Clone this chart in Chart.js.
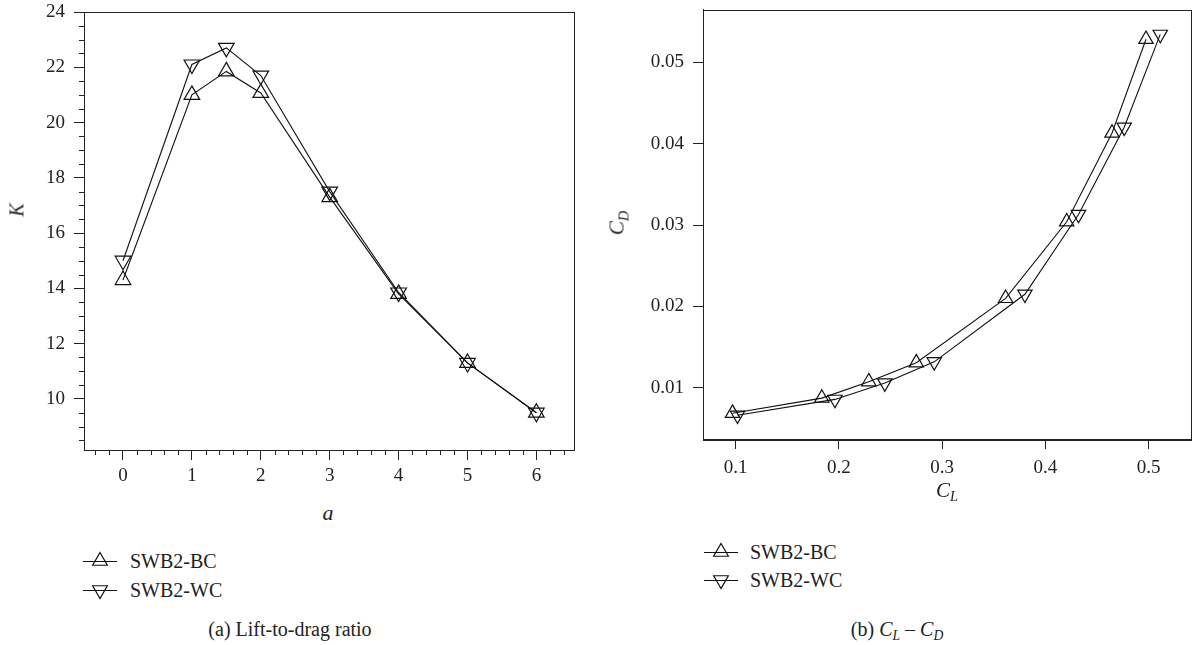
<!DOCTYPE html>
<html>
<head>
<meta charset="utf-8">
<script src="https://cdn.jsdelivr.net/npm/chart.js@4.4.0/dist/chart.umd.min.js"></script>
<style>
html, body { margin: 0; padding: 0; background: #fff; overflow: hidden; }
body { width: 1193px; height: 645px; position: relative; font-family: "Liberation Serif", "Times New Roman", serif; color: #222; }
canvas { position: absolute; top: 0; }
#chartA { left: 0; }
#chartB { left: 600px; }
.ttl { position: absolute; font-style: italic; white-space: nowrap; transform: translate(-50%, -50%); }
.rot { transform: translate(-50%, -50%) rotate(-90deg); }
.lg { position: absolute; font-size: 20px; white-space: nowrap; transform: translateY(-50%); }
.icon { position: absolute; }
.cap { position: absolute; font-size: 20px; white-space: nowrap; transform: translate(-50%, -50%); }
sub { font-size: 0.68em; vertical-align: -0.35em; line-height: 0; }
</style>
</head>
<body>
<canvas id="chartA" width="600" height="500"></canvas>
<canvas id="chartB" width="600" height="500"></canvas>

<div class="ttl rot" style="left:17px; top:210px; font-size:20px;">K</div>
<div class="ttl" style="left:328px; top:513px; font-size:22px;">a</div>
<div class="ttl rot" style="left:617px; top:223px; font-size:21px;">C<sub>D</sub></div>
<div class="ttl" style="left:947px; top:490px; font-size:21px;">C<sub>L</sub></div>

<canvas class="icon" id="icoA1" width="36" height="20" style="left:82px; top:551px;"></canvas>
<div class="lg" style="left:130px; top:561px;">SWB2-BC</div>
<canvas class="icon" id="icoA2" width="36" height="20" style="left:82px; top:580px;"></canvas>
<div class="lg" style="left:130px; top:590px;">SWB2-WC</div>

<canvas class="icon" id="icoB1" width="36" height="20" style="left:703px; top:542px;"></canvas>
<div class="lg" style="left:750px; top:552px;">SWB2-BC</div>
<canvas class="icon" id="icoB2" width="36" height="20" style="left:703px; top:570px;"></canvas>
<div class="lg" style="left:750px; top:580px;">SWB2-WC</div>

<div class="cap" style="left:290px; top:629px;">(a) Lift-to-drag ratio</div>
<div class="cap" style="left:897px; top:629px;">(b) <i>C</i><sub><i>L</i></sub> &ndash; <i>C</i><sub><i>D</i></sub></div>

<script>
// lift-to-drag ratio K against a
var aValues = [0, 1, 1.5, 2, 3, 4, 5, 6];
var kBC = [14.3, 21.0, 21.85, 21.07, 17.3, 13.8, 11.3, 9.5];
var kWC = [15.0, 22.1, 22.7, 21.7, 17.5, 13.85, 11.3, 9.5];
var aTicks = [0, 1, 2, 3, 4, 5, 6];
var kTicks = [10, 12, 14, 16, 18, 20, 22, 24];

// drag polar, CD against CL
var clBC = [0.097, 0.1835, 0.229, 0.275, 0.3615, 0.4207, 0.4646, 0.4975];
var cdBC = [0.0069, 0.00875, 0.01077, 0.0131, 0.0210, 0.0304, 0.0413, 0.0528];
var clWC = [0.1018, 0.1962, 0.2445, 0.2924, 0.3802, 0.4321, 0.4764, 0.5113];
var cdWC = [0.00665, 0.00859, 0.0106, 0.0132, 0.0215, 0.0313, 0.0420, 0.0534];
var clTicks = [0.1, 0.2, 0.3, 0.4, 0.5];
var cdTicks = [0.01, 0.02, 0.03, 0.04, 0.05];

var ink = '#222';
var tickFont = { family: '"Liberation Serif", "Times New Roman", serif', size: 19 };

function pairs(xs, ys) {
    return xs.map(function (x, i) { return { x: x, y: ys[i] }; });
}

function series(label, data, rotation, radius) {
    return {
        label: label,
        data: data,
        borderColor: '#111',
        borderWidth: 1.1,
        tension: 0,
        pointStyle: 'triangle',
        rotation: rotation,
        pointRadius: radius,
        pointBorderWidth: 1.2,
        pointBorderColor: '#111',
        pointBackgroundColor: 'rgba(0,0,0,0)'
    };
}

// box around the plot area
var frame = {
    id: 'frame',
    afterDraw: function (chart) {
        var a = chart.chartArea, ctx = chart.ctx;
        ctx.save();
        ctx.strokeStyle = ink;
        ctx.lineWidth = 1;
        ctx.strokeRect(Math.round(a.left) + 0.5, Math.round(a.top) + 0.5, Math.round(a.right - a.left), Math.round(a.bottom - a.top));
        ctx.restore();
    }
};

// short ticks between the labelled ones
var minorTicks = {
    id: 'minorTicks',
    afterDraw: function (chart, args, opts) {
        if (!opts.x) return;
        var ctx = chart.ctx, a = chart.chartArea;
        var xs = chart.scales.x, ys = chart.scales.y;
        ctx.save();
        ctx.strokeStyle = ink;
        ctx.lineWidth = 1;
        ctx.beginPath();
        opts.x.forEach(function (v) {
            var px = Math.round(xs.getPixelForValue(v)) + 0.5;
            ctx.moveTo(px, a.bottom);
            ctx.lineTo(px, a.bottom + opts.len);
        });
        opts.y.forEach(function (v) {
            var py = Math.round(ys.getPixelForValue(v)) + 0.5;
            ctx.moveTo(a.left, py);
            ctx.lineTo(a.left - opts.len, py);
        });
        ctx.stroke();
        ctx.restore();
    }
};

function axis(min, max, ticks, size, horizontal, pad) {
    return {
        type: 'linear',
        min: min,
        max: max,
        grid: { display: true, drawOnChartArea: false, drawTicks: true, tickLength: 10, color: ink, lineWidth: 1 },
        border: { display: true, color: ink, width: 1 },
        ticks: { color: ink, font: tickFont, padding: pad, maxRotation: 0, autoSkip: false, callback: function (v) { return String(v); } },
        afterBuildTicks: function (s) { s.ticks = ticks.map(function (v) { return { value: v }; }); },
        afterFit: function (s) {
            if (horizontal) s.height = size; else s.width = size;
            s.paddingTop = 0; s.paddingBottom = 0; s.paddingLeft = 0; s.paddingRight = 0;
        }
    };
}

var minorA = [], minorK = [];
for (var i = -2; i <= 32; i++) { if (i % 5 !== 0) minorA.push(i / 5); }
for (var j = 17; j <= 47; j++) { if (j % 4 !== 0) minorK.push(j / 2); }

new Chart(document.getElementById('chartA'), {
    type: 'line',
    data: {
        datasets: [
            series('SWB2-BC', pairs(aValues, kBC), 0, 9),
            series('SWB2-WC', pairs(aValues, kWC), 180, 9)
        ]
    },
    options: {
        responsive: false,
        animation: false,
        layout: { padding: { top: 12, right: 26, left: 0, bottom: 0 } },
        plugins: {
            legend: { display: false },
            tooltip: { enabled: false },
            minorTicks: { x: minorA.filter(function (v) { return v > -0.56 && v < 6.54; }), y: minorK, len: 5 }
        },
        scales: {
            x: axis(-0.566, 6.546, aTicks, 50, true, 5),
            y: axis(8.15, 24, kTicks, 84, false, 9)
        }
    },
    plugins: [frame, minorTicks]
});

new Chart(document.getElementById('chartB'), {
    type: 'line',
    data: {
        datasets: [
            series('SWB2-BC', pairs(clBC, cdBC), 0, 8.3),
            series('SWB2-WC', pairs(clWC, cdWC), 180, 8.3)
        ]
    },
    options: {
        responsive: false,
        animation: false,
        layout: { padding: { top: 4, right: 4.5, left: 0, bottom: 0 } },
        plugins: {
            legend: { display: false },
            tooltip: { enabled: false }
        },
        scales: {
            x: axis(0.0684, 0.5406, clTicks, 61, true, 8),
            y: axis(0.00373, 0.05646, cdTicks, 103, false, 9)
        }
    },
    plugins: [frame]
});

// legend keys: a short line with the marker on it
function drawKey(id, rotation) {
    var c = document.getElementById(id), ctx = c.getContext('2d');
    var cx = 18, cy = 10, r = 8.5;
    ctx.strokeStyle = '#111';
    ctx.lineWidth = 1.1;
    ctx.beginPath();
    ctx.moveTo(1, cy + 0.5);
    ctx.lineTo(35, cy + 0.5);
    ctx.stroke();
    var rad = rotation * Math.PI / 180;
    ctx.beginPath();
    for (var k = 0; k < 3; k++) {
        var px = cx + Math.sin(rad) * r, py = cy - Math.cos(rad) * r;
        if (k === 0) ctx.moveTo(px, py); else ctx.lineTo(px, py);
        rad += 2 * Math.PI / 3;
    }
    ctx.closePath();
    ctx.lineWidth = 1.2;
    ctx.stroke();
}
drawKey('icoA1', 0);
drawKey('icoA2', 180);
drawKey('icoB1', 0);
drawKey('icoB2', 180);
</script>
</body>
</html>
